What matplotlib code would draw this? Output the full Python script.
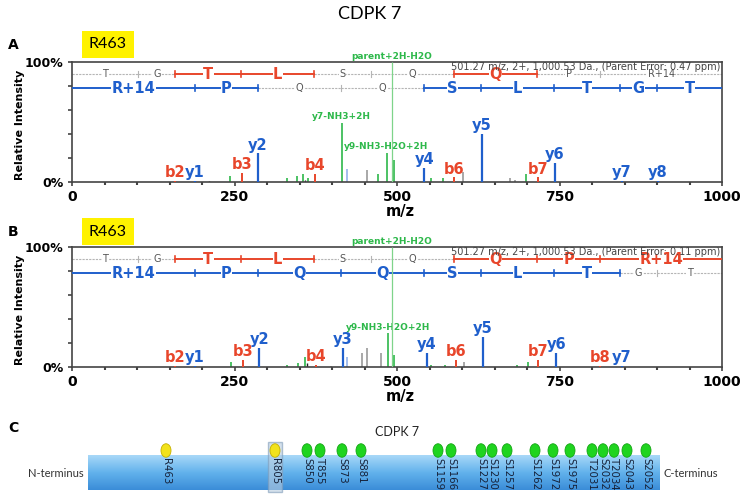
import numpy as np
import matplotlib
matplotlib.use('Agg')
import matplotlib.pyplot as plt
from matplotlib.patches import Rectangle, Ellipse
from matplotlib.colors import LinearSegmentedColormap

plt.rcParams['font.family'] = ['DejaVu Sans']

C_Y = '#1f5fcc'
C_B = '#e8462b'
C_G = '#2db84a'
C_GRAY = '#9a9a9a'
C_LB = '#93b3ea'
C_K = '#222222'
C_LADDER = '#b5b5b5'

# peptide ladder (same peptide in both spectra)
top_res = ['T', 'G', 'T', 'L', 'S', 'Q', 'Q', 'P', 'R+14']
top_edges = [0, 102, 159, 260, 373, 460, 588, 716, 813, 1000]
bot_res = ['R+14', 'P', 'Q', 'Q', 'S', 'L', 'T', 'G', 'T']
bot_edges = [0, 189, 286, 414, 542, 629, 742, 843, 900, 1000]

# residues covered by observed ions
top_hit_a = [0, 0, 1, 1, 0, 0, 1, 0, 0]
bot_hit_a = [1, 1, 0, 0, 1, 1, 1, 1, 1]
top_hit_b = [0, 0, 1, 1, 0, 0, 1, 1, 1]
bot_hit_b = [1, 1, 1, 1, 1, 1, 1, 0, 0]

parent_mz = 492

# spectrum A
a_y_mz = [189, 286, 542, 631, 743, 846, 901]
a_y_int = [1, 24, 12, 40, 16, 0.8, 0.8]
a_y_lab = ['y1', 'y2', 'y4', 'y5', 'y6', 'y7', 'y8']
a_b_mz = [159, 262, 374, 588, 717]
a_b_int = [0.8, 7.5, 7, 4, 4]
a_b_lab = ['b2', 'b3', 'b4', 'b6', 'b7']
a_g_mz = [243, 330, 346, 355, 363, 415, 470, 484, 496, 552, 571, 698]
a_g_int = [5, 3, 5, 7, 3, 49, 7, 24, 18, 3, 3, 7]
a_gray_mz = [454, 602, 674, 682]
a_gray_int = [10, 8, 3, 2]
a_lb_mz = [423]
a_lb_int = [11]
a_k_mz = [210, 358]
a_k_int = [1, 2]
a_notes = ['y7-NH3+2H', 'y9-NH3-H2O+2H']
a_notes_mz = [415, 484]
a_notes_int = [49, 24]
a_error = '0.47'

# spectrum B
b_y_mz = [189, 288, 417, 546, 632, 745, 846]
b_y_int = [1, 16, 16, 12, 25, 12, 0.8]
b_y_lab = ['y1', 'y2', 'y3', 'y4', 'y5', 'y6', 'y7']
b_b_mz = [159, 263, 375, 591, 717, 813]
b_b_int = [0.8, 6, 2, 6, 6, 0.8]
b_b_lab = ['b2', 'b3', 'b4', 'b6', 'b7', 'b8']
b_g_mz = [244, 330, 348, 358, 486, 495, 552, 574, 684, 702]
b_g_int = [4, 2, 3, 8, 28, 10, 2, 2, 2, 4]
b_gray_mz = [398, 446, 454, 475, 603]
b_gray_int = [1, 12, 16, 12, 4]
b_lb_mz = [423]
b_lb_int = [8]
b_k_mz = [361]
b_k_int = [3]
b_notes = ['y9-NH3-H2O+2H']
b_notes_mz = [486]
b_notes_int = [28]
b_error = '0.11'

# panel C: modification sites on the CDPK 7 schematic
site_lab = ['R463', 'R805', 'S850', 'T855', 'S873', 'S881', 'S1159', 'S1166',
            'S1227', 'S1230', 'S1257', 'S1262', 'S1972', 'S1975', 'T2031',
            'S2032', 'T2034', 'S2043', 'S2052']
site_x = [166, 275, 307, 320, 342, 361, 438, 451, 481, 492, 507, 535, 553,
          570, 592, 603, 614, 627, 646]
site_kind = ['R', 'R'] + ['P'] * 17

W, H = 740, 494


def draw_ladder(ax, res, edges, hits, yrow, color):
    for i, r in enumerate(res):
        x0, x1 = edges[i], edges[i + 1]
        xm = (x0 + x1) / 2
        if hits[i]:
            ax.plot([x0, x1], [yrow, yrow], color=color, lw=1.4, zorder=3)
            ax.text(xm, yrow, r, color=color, fontsize=10.5, fontweight='bold',
                    ha='center', va='center', zorder=4,
                    bbox=dict(fc='white', ec='none', pad=0.2))
        else:
            ax.plot([x0, x1], [yrow, yrow], color=C_LADDER, lw=0.8,
                    ls=(0, (2, 1)), zorder=2)
            ax.text(xm, yrow, r, color='#555555', fontsize=7,
                    ha='center', va='center', zorder=4,
                    bbox=dict(fc='white', ec='none', pad=0.4))
    for j in range(1, len(edges) - 1):
        on = hits[j - 1] or hits[j]
        ax.plot([edges[j], edges[j]], [yrow - 2.5, yrow + 2.5],
                color=color if on else C_LADDER, lw=1.2 if on else 0.8, zorder=3)


def draw_spectrum(ax, y_mz, y_int, y_lab, b_mz, b_int, b_lab, g_mz, g_int,
                  gray_mz, gray_int, lb_mz, lb_int, k_mz, k_int,
                  notes, notes_mz, notes_int, err, top_hit, bot_hit):
    ax.set_xlim(0, 1000)
    ax.set_ylim(0, 100)

    ax.vlines(gray_mz, 0, gray_int, color=C_GRAY, lw=1.2)
    ax.vlines(lb_mz, 0, lb_int, color=C_LB, lw=1.2)
    ax.vlines(k_mz, 0, k_int, color=C_K, lw=1.0)
    ax.vlines(g_mz, 0, g_int, color=C_G, lw=1.2)
    ax.vlines(y_mz, 0, y_int, color=C_Y, lw=1.6, zorder=3)
    ax.vlines(b_mz, 0, b_int, color=C_B, lw=1.4, zorder=3)
    ax.vlines([parent_mz], 0, [100], color='#7fd48a', lw=0.9, zorder=5)

    for m, v, t in zip(y_mz, y_int, y_lab):
        ax.text(m, v + 0.5, t, color=C_Y, fontsize=10.5, fontweight='bold',
                ha='center', va='bottom')
    for m, v, t in zip(b_mz, b_int, b_lab):
        ax.text(m, v + 0.5, t, color=C_B, fontsize=10.5, fontweight='bold',
                ha='center', va='bottom')
    for m, v, t in zip(notes_mz, notes_int, notes):
        ax.text(m, v + 1.5, t, color=C_G, fontsize=6.5, fontweight='bold',
                ha='center', va='bottom')
    ax.text(parent_mz, 100.5, 'parent+2H-H2O', color=C_G, fontsize=6.5,
            fontweight='bold', ha='center', va='bottom', clip_on=False)

    draw_ladder(ax, top_res, top_edges, top_hit, 90, C_B)
    draw_ladder(ax, bot_res, bot_edges, bot_hit, 78.3, C_Y)

    ax.text(997, 95.5, '501.27 m/z, 2+, 1,000.53 Da., (Parent Error: %s ppm)' % err,
            ha='right', va='center', fontsize=7, color='#444444', zorder=6)

    for s in ax.spines.values():
        s.set_color('#444444')
        s.set_linewidth(1.2)
    ax.set_yticks([0, 20, 40, 60, 80, 100])
    ax.set_yticklabels(['0%', '', '', '', '', '100%'], fontsize=9, fontweight='bold')
    ax.set_xticks([0, 250, 500, 750, 1000])
    ax.set_xticklabels(['0', '250', '500', '750', '1000'], fontsize=10,
                       fontweight='bold')
    ax.set_xticks(np.arange(0, 1001, 50), minor=True)
    ax.tick_params(axis='both', which='major', length=3, width=1.2, color='#444444', pad=3)
    ax.tick_params(axis='x', which='minor', length=2, width=1.5, color='#444444')
    ax.text(0.505, -29 / 120, 'm/z', transform=ax.transAxes, ha='center',
            va='center', fontsize=10.5, fontweight='bold')


fig = plt.figure(figsize=(W / 100, H / 100), dpi=100)
fig.text(370 / W, 1 - 14 / H, 'CDPK 7', ha='center', va='center', fontsize=13,
         family=['Lato', 'DejaVu Sans'])

panels = [
    ('A', 182, 45, 31, (a_y_mz, a_y_int, a_y_lab, a_b_mz, a_b_int, a_b_lab,
                        a_g_mz, a_g_int, a_gray_mz, a_gray_int, a_lb_mz, a_lb_int,
                        a_k_mz, a_k_int, a_notes, a_notes_mz, a_notes_int,
                        a_error, top_hit_a, bot_hit_a)),
    ('B', 367, 232, 218, (b_y_mz, b_y_int, b_y_lab, b_b_mz, b_b_int, b_b_lab,
                          b_g_mz, b_g_int, b_gray_mz, b_gray_int, b_lb_mz, b_lb_int,
                          b_k_mz, b_k_int, b_notes, b_notes_mz, b_notes_int,
                          b_error, top_hit_b, bot_hit_b)),
]

for letter, base_px, lab_px, box_px, args in panels:
    ax = fig.add_axes([72 / W, 1 - base_px / H, 650 / W, 120 / H])
    draw_spectrum(ax, *args)
    fig.text(20 / W, 1 - (base_px - 57) / H, 'Relative Intensity', rotation=90,
             ha='center', va='center', fontsize=8, fontweight='bold')
    fig.text(8 / W, 1 - lab_px / H, letter, ha='left', va='center',
             fontsize=10, fontweight='bold')
    fig.add_artist(Rectangle((82 / W, 1 - (box_px + 27) / H), 52 / W, 27 / H,
                             transform=fig.transFigure, fc='#fff200', ec='none'))
    fig.text(108 / W, 1 - (box_px + 13.5) / H, 'R463', ha='center', va='center',
             fontsize=11.5, family=['Lato', 'DejaVu Sans'])

# panel C
axc = fig.add_axes([0, 0, 1, 80 / H])
axc.axis('off')
cm = LinearSegmentedColormap.from_list('bar', ['#a8d8f8', '#62b2ec', '#3b8dd8'])
axc.imshow(np.linspace(0, 1, 60).reshape(-1, 1), extent=[88, 660, 4, 38],
           cmap=cm, aspect='auto', zorder=1)
axc.set_xlim(0, W)
axc.set_ylim(0, 80)
axc.add_patch(Rectangle((268, 2), 14, 50, fc='#b9cde0', ec='#7f9bb8', lw=1,
                        alpha=0.6, zorder=2))
for x, t, k in zip(site_x, site_lab, site_kind):
    if k == 'R':
        fc, ec = '#f2e21b', '#c4b000'
    else:
        fc, ec = '#1fd41f', '#14a514'
    axc.add_patch(Ellipse((x, 43.5), 10, 13.5, fc=fc, ec=ec, lw=0.6, zorder=3))
    axc.text(x, 36, t, rotation=-90, ha='center', va='top', fontsize=7.3,
             color='#16223a', zorder=4)
tf = ['Lato', 'DejaVu Sans']
axc.text(84, 21, 'N-terminus', ha='right', va='center', fontsize=8, color='#333333', family=tf)
axc.text(664, 21, 'C-terminus', ha='left', va='center', fontsize=8, color='#333333', family=tf)
axc.text(397, 62, 'CDPK 7', ha='center', va='center', fontsize=9, color='#222222', family=tf)
axc.text(8, 66, 'C', ha='left', va='center', fontsize=10, fontweight='bold')

fig.savefig('out.png', dpi=100)
